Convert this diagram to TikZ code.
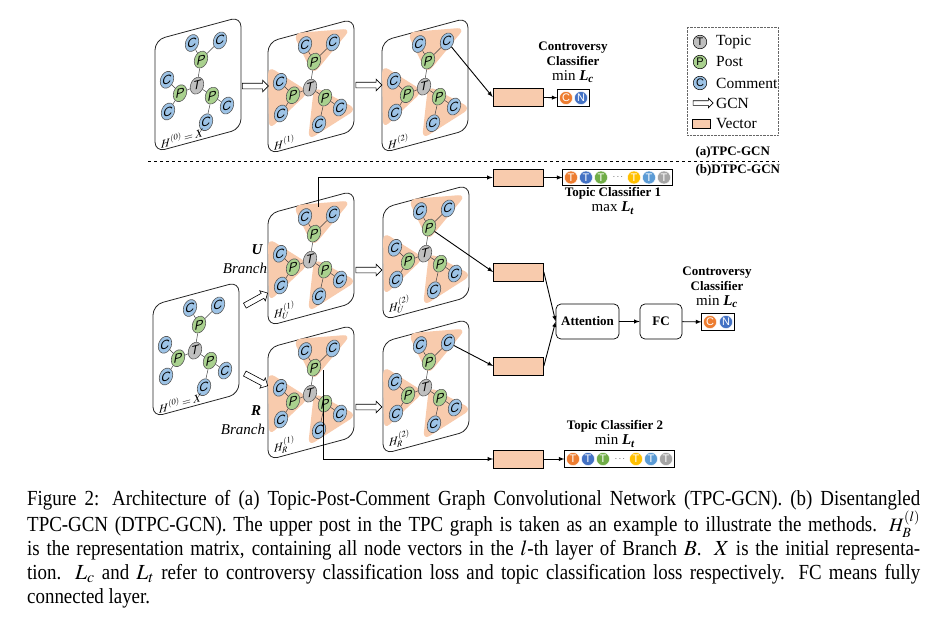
\documentclass[tikz,border=0pt]{standalone}
\usepackage{mathptmx}
\usepackage{fontspec}
\setmainfont{Liberation Serif}
\setsansfont{Liberation Sans}
\newfontfamily\capfont{Liberation Serif}[FakeStretch=0.88]
\usetikzlibrary{shapes.geometric,shapes.arrows,positioning,fit}
\tikzset{>=latex}
\definecolor{cmtblue}{HTML}{9DC3E6}
\definecolor{postgreen}{HTML}{A9D18E}
\definecolor{topicgray}{HTML}{BFBFBF}
\definecolor{vecpeach}{HTML}{F8CBAD}
\definecolor{clsorange}{HTML}{ED7D31}
\definecolor{clsblue}{HTML}{4472C4}
\definecolor{clsgreen}{HTML}{70AD47}
\definecolor{clsyellow}{HTML}{FFC000}
\definecolor{clssky}{HTML}{5B9BD5}
\definecolor{clsgray}{HTML}{A5A5A5}
\tikzset{
  panel/.style={draw=black!85, rounded corners=10pt, minimum width=86pt, minimum height=112pt, inner sep=0pt, line width=0.8pt},
  gnode/.style={ellipse, draw=black!65, line width=0.6pt, minimum width=13.5pt, minimum height=16.5pt, inner sep=0pt, font=\sffamily\itshape\fontsize{12.5}{12.5}\selectfont},
  cnode/.style={gnode, fill=cmtblue},
  pnode/.style={gnode, fill=postgreen},
  tnode/.style={gnode, fill=topicgray},
  gedge/.style={draw=black!75, line width=0.5pt},
  grp/.style={fill=vecpeach, rounded corners=8pt},
  gcn/.style={single arrow, draw, fill=white, line width=0.6pt, minimum height=26pt, inner xsep=0pt, inner ysep=2.5pt, single arrow head extend=3pt},
  vec/.style={draw, fill=vecpeach, minimum width=50pt, minimum height=18pt, inner sep=0pt, line width=0.7pt},
  blk/.style={draw, rounded corners=5pt, minimum height=35pt, inner sep=0pt, line width=0.7pt, font=\bfseries\fontsize{13}{13}\selectfont},
  cls/.style={circle, fill=#1, draw=white, line width=0.4pt, text=white, minimum size=13pt, inner sep=0pt, font=\sffamily\fontsize{11}{11}\selectfont},
  outbox/.style={draw, line width=0.7pt, inner sep=1.5pt},
  lgc/.style={circle, fill=#1, draw, line width=0.5pt, minimum size=13.5pt, inner sep=0pt, font=\sffamily\fontsize{11}{11}\selectfont},
  lgtext/.style={anchor=west, inner sep=0pt, font=\fontsize{15.5}{15.5}\selectfont},
  clslbl/.style={align=center, font=\bfseries\fontsize{13}{15}\selectfont},
  conn/.style={->, line width=0.9pt},
}
\newcommand{\lossL}[1]{\textbf{\textit{L}}\textsubscript{\textbf{\textit{#1}}}}
% one TPC graph on a slanted sheet: name, x, y, shaded groups (1/0), label
\newcommand{\tpcpanel}[5]{%
\begin{scope}[shift={(#2,#3)}, yslant=0.27, transform shape]
  \node[panel] (#1) at (43,56) {};
  \ifnum#4=1
    \fill[grp] (25,-2) -- (83,9) -- (45,45) -- cycle;
    \fill[grp] (0,24) -- (1,88) -- (41,61) -- cycle;
    \fill[grp] (46,57) -- (89,91) -- (40,109) -- cycle;
  \fi
  \node[tnode] (#1-t) at (42,57) {T};
  \node[pnode] (#1-pu) at (46,32) {P};
  \node[cnode] (#1-cu1) at (37,13) {C};
  \node[cnode] (#1-cu2) at (65,18) {C};
  \node[pnode] (#1-pl) at (25,60) {P};
  \node[cnode] (#1-cl1) at (12,43) {C};
  \node[cnode] (#1-cl2) at (13,75) {C};
  \node[pnode] (#1-pr) at (57,71) {P};
  \node[cnode] (#1-cr1) at (72,85) {C};
  \node[cnode] (#1-cr2) at (51,96) {C};
  \foreach \a/\b in {t/pu,t/pl,t/pr,pu/cu1,pu/cu2,pl/cl1,pl/cl2,pr/cr1,pr/cr2}
    \draw[gedge] (#1-\a) -- (#1-\b);
  \node[anchor=south west, inner sep=0pt, font=\fontsize{11.5}{11.5}\selectfont] (#1-h) at (6,110) {#5};
  \coordinate (#1-out) at (50,6);
  \coordinate (#1-down) at (55,37);
\end{scope}}
% row of topic outputs: name, x of first circle, y
\newcommand{\topicrow}[3]{%
  \foreach \c [count=\i] in {clsorange,clsblue,clsgreen}
    \node[cls=\c] (#1-\i) at ({#2+(\i-1)*15},#3) {T};
  \node[text=black!60, font=\fontsize{10}{10}\selectfont] (#1-dots) at (#2+47,#3) {$\cdots$};
  \foreach \c [count=\i from 4] in {clsyellow,clssky,clsgray}
    \node[cls=\c] (#1-\i) at ({#2+(\i-1)*15+18},#3) {T};
  \node[outbox, fit=(#1-1)(#1-6)] (#1) {};
}

\begin{document}
\begin{tikzpicture}[x=1pt, y=-1pt]
\useasboundingbox (0,0) rectangle (932,621);

% (a) TPC-GCN
\tpcpanel{a0}{155}{40}{0}{$H^{(0)}=X$}
\tpcpanel{a1}{268}{42}{1}{$H^{(1)}$}
\tpcpanel{a2}{382}{41}{1}{$H^{(2)}$}
\node[gcn] (ag1) at (254,86) {};
\node[gcn] (ag2) at (367.5,85) {};
\node[vec] (av) at (518,97) {};
\node[cls=clsorange] (ac-c) at (566,98) {C};
\node[cls=clsblue] (ac-n) at (581,98) {N};
\node[outbox, fit=(ac-c)(ac-n)] (ac) {};
\node[clslbl] (aclbl) at (573,62) {Controversy\\Classifier\\{\mdseries\fontsize{15}{15}\selectfont min \lossL{c}}};
\draw[conn] (a2-cu2) -- (av.west);
\draw[conn] (av) -- (ac);

% legend
\node[draw=black!60, densely dotted, minimum width=91pt, minimum height=108pt] (legend) at (732.5,81) {};
\node[lgc=topicgray] (lg-t) at (700,42) {T};
\node[lgc=postgreen] (lg-p) at (700,62) {P};
\node[lgc=cmtblue] (lg-c) at (700,83) {C};
\node[gcn, minimum height=20pt, inner ysep=2pt, single arrow head extend=2.5pt] (lg-g) at (702,103) {};
\node[vec, minimum width=18pt, minimum height=9pt] (lg-v) at (701,124) {};
\node[lgtext] (lg-tt) at (716,42) {Topic};
\node[lgtext] (lg-pt) at (716,62) {Post};
\node[lgtext] (lg-ct) at (716,83) {Comment};
\node[lgtext] (lg-gt) at (716,103) {GCN};
\node[lgtext] (lg-vt) at (716,124) {Vector};

\draw[dashed, line width=0.7pt] (148,161) -- (779,161);
\node[anchor=west, font=\bfseries\fontsize{13}{13}\selectfont] (lbl-a) at (692,152) {(a)TPC-GCN};
\node[anchor=west, font=\bfseries\fontsize{13}{13}\selectfont] (lbl-b) at (692,170) {(b)DTPC-GCN};

% (b) DTPC-GCN
\tpcpanel{b0}{153}{305}{0}{$H^{(0)}=X$}
\tpcpanel{u1}{268}{214}{1}{$H_U^{(1)}$}
\tpcpanel{u2}{383}{208}{1}{$H_U^{(2)}$}
\tpcpanel{r1}{268}{348}{1}{$H_R^{(1)}$}
\tpcpanel{r2}{383}{342}{1}{$H_R^{(2)}$}
\node[gcn, rotate=29] (bg-u) at (255,300) {};
\node[gcn, rotate=-28] (bg-r) at (255,379) {};
\node[gcn] (ug) at (367.5,270) {};
\node[gcn] (rg) at (367.5,407) {};
\node[font=\bfseries\itshape\fontsize{15}{15}\selectfont] (u-lbl) at (257,250) {U};
\node[font=\itshape\fontsize{15}{15}\selectfont] (u-br) at (245,268) {Branch};
\node[font=\bfseries\itshape\fontsize{15}{15}\selectfont] (r-lbl) at (256,411) {R};
\node[font=\itshape\fontsize{15}{15}\selectfont] (r-br) at (243,429) {Branch};

\node[vec, minimum height=17pt] (tc1v) at (518,177.5) {};
\node[vec] (uv) at (518.5,272) {};
\node[vec] (rv) at (518.5,366) {};
\node[vec] (tc2v) at (518.5,459) {};
\topicrow{tc1}{571}{177.5}
\topicrow{tc2}{573}{459}
\node[clslbl] (tc1lbl) at (613,201) {Topic Classifier 1\\{\mdseries\fontsize{15}{15}\selectfont max \lossL{t}}};
\node[clslbl] (tc2lbl) at (615,434) {Topic Classifier 2\\{\mdseries\fontsize{15}{15}\selectfont min \lossL{t}}};

\node[blk, minimum width=63pt] (att) at (587.5,321.5) {Attention};
\node[blk, minimum width=42pt] (fc) at (661,321.5) {FC};
\node[cls=clsorange] (bc-c) at (710,322) {C};
\node[cls=clsblue] (bc-n) at (726,322) {N};
\node[outbox, fit=(bc-c)(bc-n)] (bc) {};
\node[clslbl] (bclbl) at (717,287) {Controversy\\Classifier\\{\mdseries\fontsize{15}{15}\selectfont min \lossL{c}}};

\draw[conn] (u1-out) |- (tc1v.west);
\draw[conn] (r1-down) |- (tc2v.west);
\draw[conn] (u2-pu) -- (uv.west);
\draw[conn] (r2-cu2) -- (rv.west);
\draw[conn] (tc1v) -- (tc1);
\draw[conn] (tc2v) -- (tc2);
\draw[conn] (uv.east) -- (att.west);
\draw[conn] (rv.east) -- (att.west);
\draw[conn] (att) -- (fc);
\draw[conn] (fc) -- (bc);

% caption
\node[anchor=north west, text width=893pt, align=justify, inner sep=0pt, font=\capfont\fontsize{21.5}{24}\selectfont] (cap) at (27,490) {Figure 2: Architecture of (a) Topic-Post-Comment Graph Convolutional Network (TPC-GCN). (b) Disentangled\linebreak TPC-GCN (DTPC-GCN). The upper post in the TPC graph is taken as an example to illustrate the methods. {\fontsize{19}{19}\selectfont$H_B^{(l)}$}\linebreak is the representation matrix, containing all node vectors in the $l$-th layer of Branch $B$. $X$ is the initial representa-\linebreak tion. $L_c$ and $L_t$ refer to controversy classification loss and topic classification loss respectively. FC means fully\linebreak connected layer.};
\end{tikzpicture}
\end{document}
